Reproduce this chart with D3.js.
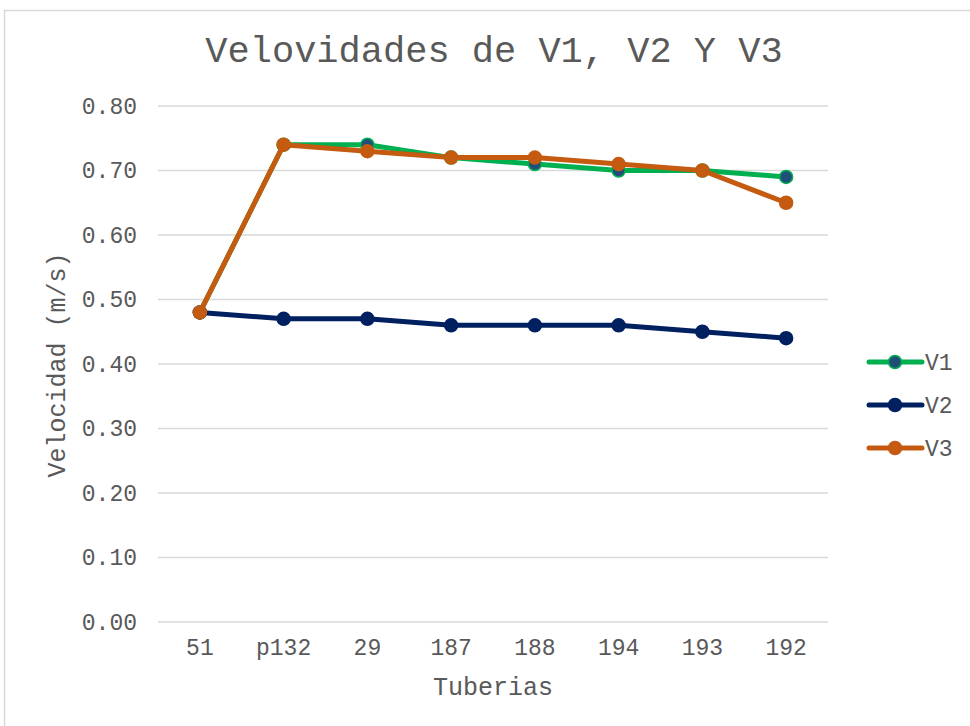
<!doctype html>
<html>
<head>
<meta charset="UTF-8">
<title>Velovidades de V1, V2 Y V3</title>
<script src="https://cdn.jsdelivr.net/npm/d3@7"></script>
<style>
  body { margin: 0; background: #fff; }
  text { font-family: "Courier New", "Nimbus Mono PS", "FreeMono", Courier, "Liberation Mono", monospace; fill: #595959; }
</style>
</head>
<body>
<div id="chart"></div>
<script>
// data
const tuberias = ["51", "p132", "29", "187", "188", "194", "193", "192"];
const v1 = [0.48, 0.74, 0.74, 0.72, 0.71, 0.70, 0.70, 0.69];
const v2 = [0.48, 0.47, 0.47, 0.46, 0.46, 0.46, 0.45, 0.44];
const v3 = [0.48, 0.74, 0.73, 0.72, 0.72, 0.71, 0.70, 0.65];
const yTicks = [0, 0.1, 0.2, 0.3, 0.4, 0.5, 0.6, 0.7, 0.8];

const series = [
  { name: "V1", values: v1, line: "#00b050", fill: "#1f4e79", stroke: "#00b050" },
  { name: "V2", values: v2, line: "#002060", fill: "#002060", stroke: "#002060" },
  { name: "V3", values: v3, line: "#c55a11", fill: "#c55a11", stroke: "#c55a11" }
];

const W = 970, H = 726;
const plot = { left: 158, right: 828, top: 106, bottom: 622 };
const fontStack = '"Courier New", "Nimbus Mono PS", "FreeMono", Courier, "Liberation Mono", monospace';

const svg = d3.select("#chart").append("svg")
  .attr("width", W).attr("height", H);

// chart frame
svg.append("rect")
  .attr("x", 4.5).attr("y", 10.5)
  .attr("width", 1000).attr("height", 1000)
  .attr("fill", "none").attr("stroke", "#d9d9d9").attr("stroke-width", 1.5);

const x = d3.scaleBand().domain(tuberias).range([plot.left, plot.right]);
const y = d3.scaleLinear().domain([0, 0.8]).range([plot.bottom, plot.top]);

// gridlines
svg.append("g")
  .selectAll("line").data(yTicks).join("line")
  .attr("x1", plot.left).attr("x2", plot.right)
  .attr("y1", d => y(d)).attr("y2", d => y(d))
  .attr("stroke", "#d9d9d9").attr("stroke-width", 1.5);

// y axis
const yAxis = svg.append("g")
  .attr("transform", `translate(${plot.left},0)`)
  .call(d3.axisLeft(y).tickValues(yTicks).tickFormat(d3.format(".2f")).tickSize(0).tickPadding(21));
yAxis.select(".domain").remove();
yAxis.selectAll("text").style("font-size", "23px").attr("fill", "#595959").style("font-family", fontStack);

// x axis
const xAxis = svg.append("g")
  .attr("transform", `translate(0,${plot.bottom})`)
  .call(d3.axisBottom(x).tickSize(0).tickPadding(17));
xAxis.select(".domain").remove();
xAxis.selectAll("text").style("font-size", "23px").attr("fill", "#595959").style("font-family", fontStack);

// title and axis titles
svg.append("text")
  .attr("x", 494).attr("y", 62)
  .attr("text-anchor", "middle")
  .style("font-size", "37px")
  .text("Velovidades de V1, V2 Y V3");

svg.append("text")
  .attr("x", 493).attr("y", 695)
  .attr("text-anchor", "middle")
  .style("font-size", "25px")
  .text("Tuberias");

svg.append("text")
  .attr("transform", "translate(65,365) rotate(-90)")
  .attr("text-anchor", "middle")
  .style("font-size", "25px")
  .text("Velocidad (m/s)");

// lines and markers
const line = d3.line()
  .x((d, i) => x(tuberias[i]) + x.bandwidth() / 2)
  .y(d => y(d));

for (const s of series) {
  const g = svg.append("g");
  g.append("path")
    .attr("d", line(s.values))
    .attr("fill", "none")
    .attr("stroke", s.line)
    .attr("stroke-width", 5)
    .attr("stroke-linejoin", "round")
    .attr("stroke-linecap", "round");
  g.selectAll("circle").data(s.values).join("circle")
    .attr("cx", (d, i) => x(tuberias[i]) + x.bandwidth() / 2)
    .attr("cy", d => y(d))
    .attr("r", 6.5)
    .attr("fill", s.fill)
    .attr("stroke", s.stroke)
    .attr("stroke-width", 1.5);
}

// legend
const legend = svg.append("g");
series.forEach((s, i) => {
  const ly = 362 + i * 43;
  legend.append("line")
    .attr("x1", 869).attr("x2", 922)
    .attr("y1", ly).attr("y2", ly)
    .attr("stroke", s.line).attr("stroke-width", 5)
    .attr("stroke-linecap", "round");
  legend.append("circle")
    .attr("cx", 895).attr("cy", ly).attr("r", 6.5)
    .attr("fill", s.fill).attr("stroke", s.stroke).attr("stroke-width", 1.5);
  legend.append("text")
    .attr("x", 925).attr("y", ly)
    .attr("dy", "0.35em")
    .style("font-size", "23px")
    .text(s.name);
});
</script>
</body>
</html>
